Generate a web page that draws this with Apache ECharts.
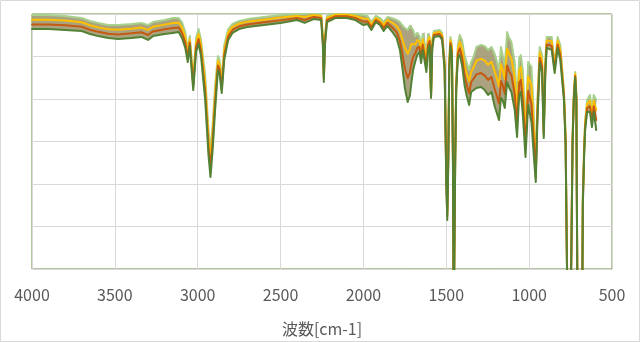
<!DOCTYPE html>
<html><head><meta charset="utf-8">
<script src="https://cdn.jsdelivr.net/npm/echarts@6/dist/echarts.min.js"></script>
<style>html,body{margin:0;padding:0;background:#fff}#c{width:640px;height:342px}</style>
</head><body><div id="c"></div>
<script>
// wavenumber [cm-1]
const wavenumbers = [4000,3900,3800,3700,3650,3600,3540,3480,3400,3340,
3300,3270,3200,3150,3115,3095,3075,3060,3048,3027,
3010,2995,2980,2955,2935,2923,2910,2895,2878,2868,
2855,2840,2816,2790,2750,2700,2600,2500,2400,2355,
2300,2255,2245,2239,2232,2220,2170,2100,2050,2000,
1975,1952,1925,1900,1878,1855,1830,1800,1780,1765,
1750,1733,1720,1710,1700,1688,1675,1662,1652,1642,
1632,1620,1610,1600,1592,1585,1575,1540,1525,1510,
1500,1494,1488,1482,1475,1466,1460,1455,1451,1446,
1440,1430,1419,1405,1390,1378,1362,1350,1338,1318,
1290,1268,1248,1227,1210,1197,1182,1170,1160,1147,
1133,1120,1107,1087,1073,1060,1050,1038,1022,1006,
986,970,960,950,936,922,912,902,894,864,
846,828,812,790,780,772,766,752,746,738,
730,722,715,712,708,680,676,668,662,650,
633,621,610,595];

// upper-most spectrum of the bundle
const topSpectrum = [119.5,119.5,119.1,118.1,116.7,115.8,114.8,114.8,115.3,115.8,
114.8,116.2,117.2,118.1,118.1,116.2,111.5,103.1,109.6,89.9,
108.7,112.9,107.8,91.3,65.4,56.0,67.8,86.6,100.2,98.4,
88.9,105.4,112.9,115.3,116.7,117.6,118.6,119.5,120,120,
120.5,120,110.1,92.7,110.1,119.1,120.5,120.5,120,119.5,
119.1,116.2,119.1,118.1,116.2,118.6,118.1,117.2,116.2,114.8,
113.4,112.5,114.4,114.8,112.5,109.6,111.1,109.6,104.5,110.6,
111.5,100.7,110.6,111.1,82.4,107.8,112.0,112.5,111.1,98.4,
46.6,28.7,56.0,98.4,109.2,105.4,56.0,-24,-24,56.0,
88.9,105.4,110.1,107.8,100.7,97.4,93.6,97.4,99.3,104.5,
105.4,104.9,103.1,104.5,101.6,98.4,93.6,104.5,100.7,96.0,
111.5,108.7,106.8,97.4,79.5,99.3,100.7,93.6,67.8,97.4,
95.1,70.1,47.5,79.5,104.5,100.7,66.8,98.4,109.2,109.2,
96.9,109.2,105.4,84.2,63.1,6.6,-24,-24,6.6,63.1,
83.3,92.7,81.9,34.8,-24,-24,34.8,58.4,70.1,79.5,
81.9,74.8,81.9,79.5];

const upperMidSpectrum = [117.3,117.3,116.9,116.1,114.7,113.7,112.8,112.6,113.1,113.6,
112.5,114.0,115.0,115.8,115.9,113.7,109.0,101.2,108.0,88.0,
106.5,110.6,105.3,87.4,61.5,51.8,63.9,82.7,98.0,96.2,
86.9,103.1,111.2,113.9,115.4,116.4,117.3,118.3,119.1,118.6,
119.5,119.1,108.5,91.1,108.5,118.1,119.7,119.7,119.1,117.9,
117.8,115.0,118.1,117.0,114.8,117.2,116.1,114.4,111.9,108.1,
104.1,101.3,103.5,106.0,106.3,105.6,107.7,107.1,102.0,108.1,
109.0,98.1,108.1,109.2,81.8,106.2,111.1,111.5,110.0,96.8,
44.2,26.9,53.6,96.8,107.8,103.8,54.4,-24,-24,54.4,
87.3,103.4,107.0,103.9,96.0,92.3,88.2,92.7,94.3,98.1,
98.9,98.1,96.1,97.5,93.5,90.3,85.8,96.5,93.7,89.3,
103.7,100.9,99.0,89.9,73.8,93.6,95.0,86.6,62.8,90.7,
86.5,63.9,45.3,76.4,102.0,98.1,65.1,96.5,107.5,107.2,
95.3,107.5,103.1,82.6,61.5,5.0,-24,-24,5.0,61.5,
82.4,91.8,81.1,33.2,-24,-24,33.2,56.8,68.5,77.6,
79.2,72.2,79.2,74.8];

const lowerMidSpectrum = [115.1,115.1,114.7,114.0,112.6,111.6,110.7,110.4,110.9,111.4,
110.1,111.8,112.8,113.4,113.7,111.2,106.5,99.3,106.5,86.1,
104.3,108.2,102.7,83.4,57.5,47.5,59.9,78.7,95.8,94.0,
84.8,100.7,109.5,112.5,114.2,115.1,116.1,117.0,118.1,117.2,
118.6,118.1,107.0,89.6,107.0,117.2,118.9,118.9,118.1,116.4,
116.6,113.7,117.2,115.9,113.4,115.8,114.0,111.5,107.4,101.3,
94.5,89.8,92.3,96.8,99.8,101.4,104.1,104.6,99.4,105.6,
106.5,95.3,105.6,107.3,81.1,104.7,110.1,110.6,108.9,95.2,
41.9,25.0,51.3,95.2,106.3,102.3,52.9,-24,-24,52.9,
85.8,101.3,103.8,99.9,91.3,87.0,82.6,88.0,89.2,91.6,
92.2,91.0,89.0,90.4,85.3,82.0,77.9,88.5,86.6,82.5,
95.8,93.0,91.1,82.3,67.9,87.6,89.0,79.5,57.7,83.9,
77.8,57.6,43.1,73.2,99.4,95.3,63.3,94.6,105.7,105.1,
93.8,105.7,100.7,81.1,60.0,3.5,-24,-24,3.5,60.0,
81.4,90.8,80.3,31.7,-24,-24,31.7,55.2,67.0,75.8,
76.6,69.5,76.6,70.1];

// lowest spectrum of the bundle
const bottomSpectrum = [112.9,112.9,112.5,112.0,110.6,109.6,108.7,108.2,108.7,109.2,
107.8,109.6,110.6,111.1,111.5,108.7,104.0,97.4,104.9,84.2,
102.1,105.9,100.2,79.5,53.6,43.3,56.0,74.8,93.6,91.8,
82.8,98.4,107.8,111.1,112.9,113.9,114.8,115.8,117.2,115.8,
117.6,117.2,105.4,88.0,105.4,116.2,118.1,118.1,117.2,114.8,
115.3,112.5,116.2,114.8,112.0,114.4,112.0,108.7,103.1,94.6,
85.2,78.6,81.4,88.0,93.6,97.4,100.7,102.1,96.9,103.1,
104.0,92.7,103.1,105.4,80.5,103.1,109.2,109.6,107.8,93.6,
39.5,23.1,48.9,93.6,104.9,100.7,51.3,-24,-24,51.3,
84.2,99.3,100.7,96.0,86.6,81.9,77.2,83.3,84.2,85.2,
85.6,84.2,81.9,83.3,77.2,73.9,70.1,80.5,79.5,75.8,
88.0,85.2,83.3,74.8,62.1,81.9,83.3,72.5,52.7,77.2,
69.2,51.3,40.9,70.1,96.9,92.7,61.6,92.7,104.0,103.1,
92.2,104.0,98.4,79.5,58.4,1.9,-24,-24,1.9,58.4,
80.5,89.9,79.5,30.1,-24,-24,30.1,53.6,65.4,73.9,
73.9,66.8,73.9,65.4];

const xTicks = [4000,3500,3000,2500,2000,1500,1000,500];
const xAxisTitle = '波数[cm-1]';

const pair = arr => wavenumbers.map((w, i) => [w, arr[i]]);
const FONT = "'Noto Sans CJK JP', 'Noto Sans', sans-serif";

const lineSeries = (name, arr, color, z) => ({
  name, type: 'line', data: pair(arr), symbol: 'none', z,
  lineStyle: { color, width: 2, join: 'round', cap: 'round' },
  emphasis: { disabled: true }, silent: true
});

// fill between top and bottom spectra (the dense bundle of overlapping traces)
const bandSeries = {
  type: 'custom', z: 1, silent: true, clip: true,
  data: [[wavenumbers[0], topSpectrum[0]]],
  renderItem: (params, api) => {
    const pts = [];
    wavenumbers.forEach((w, i) => pts.push(api.coord([w, topSpectrum[i]])));
    for (let i = wavenumbers.length - 1; i >= 0; i--) pts.push(api.coord([wavenumbers[i], bottomSpectrum[i]]));
    const cs = params.coordSys;
    return {
      type: 'polygon', shape: { points: pts },
      style: { fill: '#9c9268', opacity: 0.85 },
      clipPath: { type: 'rect', shape: { x: cs.x, y: cs.y, width: cs.width, height: cs.height } }
    };
  }
};

const chart = echarts.init(document.getElementById('c'), null, { renderer: 'canvas' });
chart.setOption({
  animation: false,
  graphic: [{ type: 'rect', shape: { x: 0.5, y: 0.5, width: 639, height: 341 },
    style: { fill: 'none', stroke: '#d9d9d9', lineWidth: 1 }, silent: true }],
  grid: { left: 32, right: 28, top: 14, bottom: 73, show: true,
    borderColor: '#6f8f46', borderWidth: 1, backgroundColor: 'transparent' },
  xAxis: {
    type: 'value', min: 500, max: 4000, interval: 500, inverse: true,
    axisLine: { show: true, onZero: false, lineStyle: { color: '#d9d9d9', width: 1 } },
    axisTick: { show: false },
    axisLabel: { color: '#595959', fontSize: 16, margin: 18, fontFamily: FONT,
      formatter: v => String(v) },
    splitLine: { show: true, lineStyle: { color: '#d9d9d9', width: 1 } },
    name: xAxisTitle, nameLocation: 'middle', nameGap: 52,
    nameTextStyle: { color: '#595959', fontSize: 16, fontFamily: FONT }
  },
  yAxis: {
    type: 'value', min: 0, max: 120, interval: 20,
    axisLine: { show: false }, axisTick: { show: false }, axisLabel: { show: false },
    splitLine: { show: true, lineStyle: { color: '#d9d9d9', width: 1 } }
  },
  series: [
    bandSeries,
    lineSeries('s1', topSpectrum, '#A9D18E', 3),
    lineSeries('s2', upperMidSpectrum, '#FFC000', 4),
    lineSeries('s3', lowerMidSpectrum, '#C55A11', 5),
    lineSeries('s4', bottomSpectrum, '#548235', 6)
  ]
});
</script></body></html>
